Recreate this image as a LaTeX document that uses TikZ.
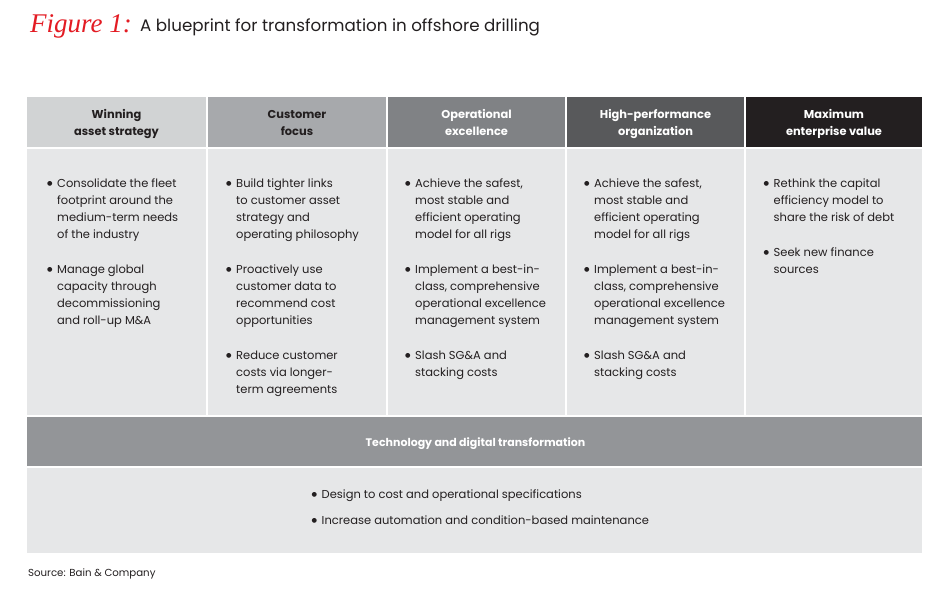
\documentclass[tikz,border=0pt]{standalone}
\usepackage{fontspec}
\setmainfont{Poppins}
\newfontfamily\figfont{Liberation Serif}
\newfontfamily\bulfont{DejaVu Sans}
\definecolor{hdrA}{HTML}{D1D3D4}
\definecolor{hdrB}{HTML}{A7A9AC}
\definecolor{hdrC}{HTML}{808285}
\definecolor{hdrD}{HTML}{58595B}
\definecolor{hdrE}{HTML}{231F20}
\definecolor{bodyfill}{HTML}{E6E7E8}
\definecolor{techfill}{HTML}{939598}
\definecolor{figred}{HTML}{E31B23}
\definecolor{txt}{HTML}{231F20}
\newcommand{\bul}{\makebox[10pt][l]{\raisebox{1.2pt}{\bulfont\fontsize{6.3}{6.3}\selectfont ●}}}
\newcommand{\hdr}[1]{\begin{tabular}[t]{@{}c@{}}#1\end{tabular}}
\begin{document}
\begin{tikzpicture}[x=1pt,y=-1pt,
  cellbox/.style={inner sep=0pt, outer sep=0pt, anchor=north west, draw=none},
  hdrtext/.style={font=\bfseries\fontsize{11.4}{17}\selectfont, anchor=base, inner sep=0pt},
  bodytext/.style={font=\fontsize{11.5}{17}\selectfont, anchor=base west, inner sep=0pt, text=txt},
]
\useasboundingbox (0,0) rectangle (950,594);
\fill[white] (0,0) rectangle (950,594);

% title
\node[anchor=base west, inner sep=0pt, text=figred, font=\figfont\itshape\fontsize{27}{29}\selectfont] (figlbl) at (30,33) {Figure 1:};
\node[anchor=base west, inner sep=0pt, text=txt, font=\fontsize{16.7}{19}\selectfont] (title) at (140,32) {A blueprint for transformation in offshore drilling};

% header cells
\node[cellbox, fill=hdrA, minimum width=179pt, minimum height=50pt] (h1) at (27,97) {};
\node[cellbox, fill=hdrB, minimum width=178pt, minimum height=50pt] (h2) at (208,97) {};
\node[cellbox, fill=hdrC, minimum width=177pt, minimum height=50pt] (h3) at (388,97) {};
\node[cellbox, fill=hdrD, minimum width=177pt, minimum height=50pt] (h4) at (567,97) {};
\node[cellbox, fill=hdrE, minimum width=176pt, minimum height=50pt] (h5) at (746,97) {};

% body cells
\node[cellbox, fill=bodyfill, minimum width=179pt, minimum height=266pt] (b1) at (27,149) {};
\node[cellbox, fill=bodyfill, minimum width=178pt, minimum height=266pt] (b2) at (208,149) {};
\node[cellbox, fill=bodyfill, minimum width=177pt, minimum height=266pt] (b3) at (388,149) {};
\node[cellbox, fill=bodyfill, minimum width=177pt, minimum height=266pt] (b4) at (567,149) {};
\node[cellbox, fill=bodyfill, minimum width=176pt, minimum height=266pt] (b5) at (746,149) {};

% technology band
\node[cellbox, fill=techfill, minimum width=895pt, minimum height=49pt] (tech) at (27,417) {};
\node[cellbox, fill=bodyfill, minimum width=895pt, minimum height=85pt] (techbody) at (27,468) {};

% header texts
\node[hdrtext, text=txt] (h1t) at ([yshift=-21pt]h1.north) {\hdr{Winning\\asset strategy}};
\node[hdrtext, text=txt] (h2t) at ([yshift=-21pt]h2.north) {\hdr{Customer\\focus}};
\node[hdrtext, text=white] (h3t) at ([yshift=-21pt]h3.north) {\hdr{Operational\\excellence}};
\node[hdrtext, text=white] (h4t) at ([yshift=-21pt]h4.north) {\hdr{High-performance\\organization}};
\node[hdrtext, text=white] (h5t) at ([yshift=-21pt]h5.north) {\hdr{Maximum\\enterprise value}};

% body texts
\node[bodytext] (b1t) at (47,187) {\begin{tabular}[t]{@{}l@{}l@{}}
\bul & Consolidate the fleet\\
 & footprint around the\\
 & medium-term needs\\
 & of the industry\\[18pt]
\bul & Manage global\\
 & capacity through\\
 & decommissioning\\
 & and roll-up M\&A
\end{tabular}};

\node[bodytext] (b2t) at (226,187) {\begin{tabular}[t]{@{}l@{}l@{}}
\bul & Build tighter links\\
 & to customer asset\\
 & strategy and\\
 & operating philosophy\\[18pt]
\bul & Proactively use\\
 & customer data to\\
 & recommend cost\\
 & opportunities\\[18pt]
\bul & Reduce customer\\
 & costs via longer-\\
 & term agreements
\end{tabular}};

\node[bodytext] (b3t) at (405,187) {\begin{tabular}[t]{@{}l@{}l@{}}
\bul & Achieve the safest,\\
 & most stable and\\
 & efficient operating\\
 & model for all rigs\\[18pt]
\bul & Implement a best-in-\\
 & class, comprehensive\\
 & operational excellence\\
 & management system\\[18pt]
\bul & Slash SG\&A and\\
 & stacking costs
\end{tabular}};

\node[bodytext] (b4t) at (584,187) {\begin{tabular}[t]{@{}l@{}l@{}}
\bul & Achieve the safest,\\
 & most stable and\\
 & efficient operating\\
 & model for all rigs\\[18pt]
\bul & Implement a best-in-\\
 & class, comprehensive\\
 & operational excellence\\
 & management system\\[18pt]
\bul & Slash SG\&A and\\
 & stacking costs
\end{tabular}};

\node[bodytext] (b5t) at (763.5,187) {\begin{tabular}[t]{@{}l@{}l@{}}
\bul & Rethink the capital\\
 & efficiency model to\\
 & share the risk of debt\\[18pt]
\bul & Seek new finance\\
 & sources
\end{tabular}};

% technology texts
\node[anchor=base, inner sep=0pt, text=white, font=\bfseries\fontsize{11}{14}\selectfont] (techt) at (475.5,446) {Technology and digital transformation};
\node[bodytext] (tbt) at (311.5,498) {\begin{tabular}[t]{@{}l@{}l@{}}
\bul & Design to cost and operational specifications\\[9pt]
\bul & Increase automation and condition-based maintenance
\end{tabular}};

% source
\node[anchor=base west, inner sep=0pt, text=txt, font=\fontsize{10.2}{12}\selectfont] (src) at (28,576) {Source: Bain \& Company};
\end{tikzpicture}
\end{document}
